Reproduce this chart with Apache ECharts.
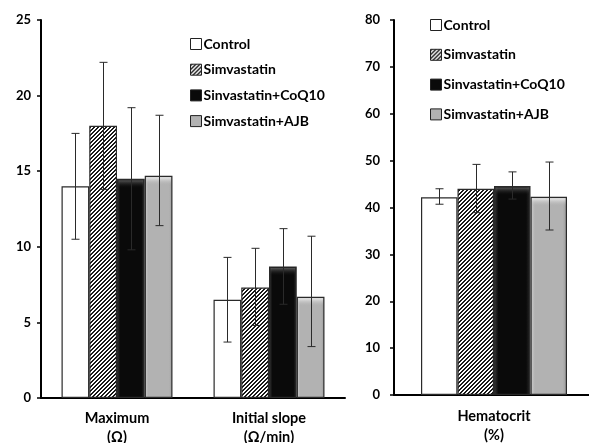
<!DOCTYPE html>
<html><head><meta charset="utf-8">
<script src="https://cdn.jsdelivr.net/npm/echarts@6/dist/echarts.min.js"></script>
<style>html,body{margin:0;padding:0;background:#fff}#c{width:589px;height:443px}</style>
</head><body><div id="c"></div>
<script>
// ---- data ----
const seriesNames = ['Control', 'Simvastatin', 'Sinvastatin+CoQ10', 'Simvastatin+AJB'];
const leftCategories = ['Maximum\n(Ω)', 'Initial slope\n(Ω/min)'];
const rightCategories = ['Hematocrit\n(%)'];
const leftTicks = [0, 5, 10, 15, 20, 25];
const rightTicks = [0, 10, 20, 30, 40, 50, 60, 70, 80];
// per treatment: [Maximum, Initial slope]
const controlLeft = [14.0, 6.5];
const simvLeft = [18.0, 7.3];
const coqLeft = [14.5, 8.7];
const ajbLeft = [14.7, 6.7];
const controlLeftLow = [10.5, 3.7];
const simvLeftLow = [13.8, 4.8];
const coqLeftLow = [9.8, 6.2];
const ajbLeftLow = [11.4, 3.4];
const controlLeftHigh = [17.5, 9.3];
const simvLeftHigh = [22.2, 9.9];
const coqLeftHigh = [19.2, 11.2];
const ajbLeftHigh = [18.7, 10.7];
// Hematocrit
const controlHct = [42.2];
const simvHct = [44.0];
const coqHct = [44.6];
const ajbHct = [42.3];
const controlHctLow = [40.7];
const simvHctLow = [38.9];
const coqHctLow = [41.8];
const ajbHctLow = [35.2];
const controlHctHigh = [44.0];
const simvHctHigh = [49.2];
const coqHctHigh = [47.6];
const ajbHctHigh = [49.7];

// ---- styles ----
const FONT = 'Lato';
const GAP = 0.27;
function hatch() {
  const n = 4, c = document.createElement('canvas');
  c.width = n; c.height = n;
  const ctx = c.getContext('2d');
  const img = ctx.createImageData(n, n);
  for (let y = 0; y < n; y++) for (let x = 0; x < n; x++) {
    const i = (y * n + x) * 4;
    const v = ((x + y) % n) < 2 ? 25 : 255;
    img.data[i] = v; img.data[i + 1] = v; img.data[i + 2] = v; img.data[i + 3] = 255;
  }
  ctx.putImageData(img, 0, 0);
  return { image: c, repeat: 'repeat' };
}
const fills = [
  '#ffffff',
  hatch(),
  { type: 'linear', x: 0, y: 0, x2: 1, y2: 0, colorStops: [
    { offset: 0, color: '#3a3a3a' }, { offset: 0.12, color: '#0a0a0a' },
    { offset: 0.88, color: '#0a0a0a' }, { offset: 1, color: '#2a2a2a' }] },
  { type: 'linear', x: 0, y: 0, x2: 1, y2: 0, colorStops: [
    { offset: 0, color: '#d0d0d0' }, { offset: 0.12, color: '#b2b2b2' },
    { offset: 0.88, color: '#b2b2b2' }, { offset: 1, color: '#9a9a9a' }] }
];
const highlights = [null, null,
  ['rgba(110,110,110,0.75)', 'rgba(10,10,10,0)'],
  ['rgba(240,240,240,0.9)', 'rgba(178,178,178,0)']];

function errRender(k) {
  return function (params, api) {
    const x = api.value(0);
    const lo = api.coord([x, api.value(1)]);
    const hi = api.coord([x, api.value(2)]);
    const top = api.coord([x, api.value(3)]);
    const band = api.size([1, 0])[0];
    const bw = band * (1 - GAP) / 4;
    const center = lo[0];
    const cx = Math.round(center + (k - 1.5) * bw) + 0.5;
    const cap = 4;
    const st = { stroke: '#2a2a2a', lineWidth: 1 };
    const children = [];
    if (highlights[k]) {
      const left = center + (k - 2) * bw;
      children.push({ type: 'rect', shape: { x: left + 1.5, y: top[1] + 1.5, width: bw - 3, height: 8 },
        style: { fill: { type: 'linear', x: 0, y: 0, x2: 0, y2: 1, colorStops: [
          { offset: 0, color: highlights[k][0] }, { offset: 1, color: highlights[k][1] }] } } });
    }
    children.push(
      { type: 'line', shape: { x1: cx, y1: lo[1], x2: cx, y2: hi[1] }, style: st },
      { type: 'line', shape: { x1: cx - cap, y1: lo[1], x2: cx + cap, y2: lo[1] }, style: st },
      { type: 'line', shape: { x1: cx - cap, y1: hi[1], x2: cx + cap, y2: hi[1] }, style: st });
    return { type: 'group', children: children };
  };
}

const leftMeans = [controlLeft, simvLeft, coqLeft, ajbLeft];
const leftLows = [controlLeftLow, simvLeftLow, coqLeftLow, ajbLeftLow];
const leftHighs = [controlLeftHigh, simvLeftHigh, coqLeftHigh, ajbLeftHigh];
const rightMeans = [controlHct, simvHct, coqHct, ajbHct];
const rightLows = [controlHctLow, simvHctLow, coqHctLow, ajbHctLow];
const rightHighs = [controlHctHigh, simvHctHigh, coqHctHigh, ajbHctHigh];

const series = [];
function addGroup(axisIdx, means, lows, highs) {
  for (let k = 0; k < 4; k++) {
    series.push({
      type: 'bar', name: seriesNames[k], xAxisIndex: axisIdx, yAxisIndex: axisIdx,
      data: means[k], barGap: '0%', barCategoryGap: (GAP * 100) + '%',
      itemStyle: { color: fills[k], borderColor: '#2a2a2a', borderWidth: 1.2 },
      emphasis: { disabled: true }, animation: false
    });
  }
  for (let k = 0; k < 4; k++) {
    series.push({
      type: 'custom', xAxisIndex: axisIdx, yAxisIndex: axisIdx, z: 5,
      renderItem: errRender(k), animation: false, silent: true,
      data: means[k].map((m, i) => [i, lows[k][i], highs[k][i], m])
    });
  }
}
addGroup(0, leftMeans, leftLows, leftHighs);
addGroup(1, rightMeans, rightLows, rightHighs);

const labelStyle = { color: '#000', fontFamily: FONT, fontWeight: 'bold', fontSize: 13 };
function yAxis(idx, ticks) {
  return {
    type: 'value', gridIndex: idx, min: ticks[0], max: ticks[ticks.length - 1],
    interval: ticks[1] - ticks[0],
    axisLine: { show: true, lineStyle: { color: '#000', width: 2 } },
    axisTick: { show: true, length: 4, lineStyle: { color: '#000', width: 1.5 } },
    splitLine: { show: false },
    axisLabel: Object.assign({ margin: idx === 0 ? 10 : 14 }, labelStyle)
  };
}
function xAxis(idx, cats) {
  return {
    type: 'category', gridIndex: idx, data: cats,
    axisLine: { lineStyle: { color: '#000', width: 2 } },
    axisTick: { show: false },
    axisLabel: Object.assign({}, labelStyle, { margin: idx === 0 ? 11 : 12, lineHeight: 19, interval: 0, fontSize: 14.5 })
  };
}
const legendText = { color: '#000', fontFamily: FONT, fontWeight: 'bold', fontSize: 14, lineHeight: 14, padding: [0, 0, 0, -3] };
const option = {
  animation: false,
  grid: [
    { left: 41, right: 244, top: 20, bottom: 45, containLabel: false, outerBoundsMode: 'none' },
    { left: 394, right: -5, top: 20, bottom: 48, containLabel: false, outerBoundsMode: 'none' }
  ],
  xAxis: [xAxis(0, leftCategories), xAxis(1, rightCategories)],
  yAxis: [yAxis(0, leftTicks), yAxis(1, rightTicks)],
  legend: [
    { orient: 'vertical', left: 190, top: 37, padding: 0, itemWidth: 11, itemHeight: 11, itemGap: 11.7,
      data: seriesNames, textStyle: legendText, icon: 'rect', selectedMode: false,
      itemStyle: { borderColor: '#222', borderWidth: 1 } },
    { orient: 'vertical', left: 430, top: 18, padding: 0, itemWidth: 11, itemHeight: 11, itemGap: 15.8,
      data: seriesNames, textStyle: legendText, icon: 'rect', selectedMode: false,
      itemStyle: { borderColor: '#222', borderWidth: 1 } }
  ],
  series: series
};
const chart = echarts.init(document.getElementById('c'), null, { renderer: 'canvas' });
chart.setOption(option);
</script></body></html>
